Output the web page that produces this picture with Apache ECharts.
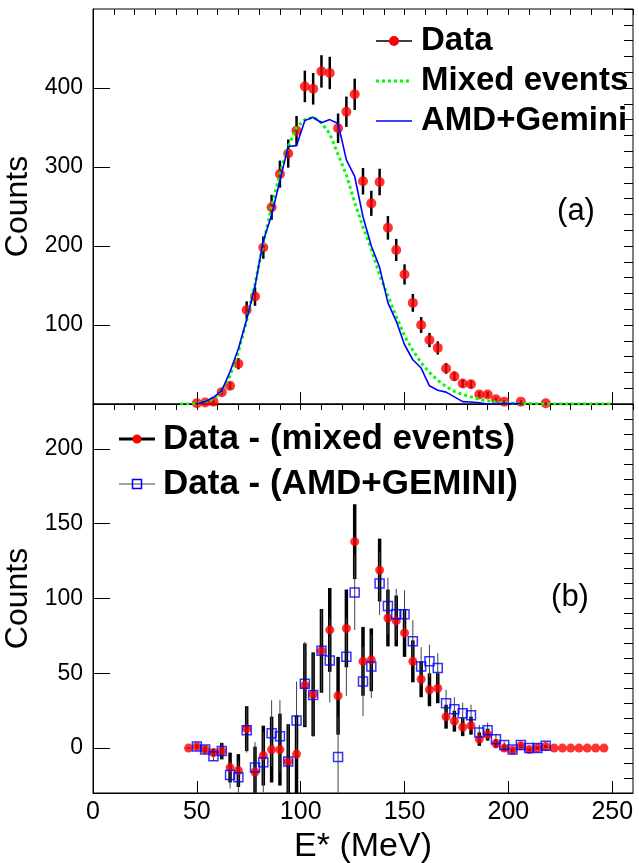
<!DOCTYPE html>
<html>
<head>
<meta charset="utf-8">
<script src="https://cdn.jsdelivr.net/npm/echarts@6/dist/echarts.min.js"></script>
<style>
  html, body { margin: 0; padding: 0; background: #fff; }
  #chart { width: 639px; height: 863px; }
</style>
</head>
<body>
<div id="chart"></div>
<script>
// bin centres in MeV (4 MeV bins)
const dataE = [50,54,58,62,66,70,74,78,82,86,90,94,98,102,106,110,114,118,122,126,130,134,138,142,146,150,154,158,162,166,170,174,178,182,186,190,194,198,202,206,210,214,218];
const dataCounts = [1,2,3,15,23,51,119,136,198,249,291,317,346,402,399,421,419,349,370,392,282,254,281,223,195,164,128,100,81,71,45,35,26,25,12,12,6,3,null,3,null,null,1];
const dataErr = [1,1.4,1.7,3.9,4.8,7.1,10.9,11.7,14.1,15.8,17.1,17.8,18.6,20,20,20.5,20.5,18.7,19.2,19.8,16.8,15.9,16.8,14.9,14,12.8,11.3,10,9,8.4,6.7,5.9,5.1,5,3.5,3.5,2.4,1.7,0,1.7,0,0,1];

const mixedE = [42,46,50,54,58,62,66,70,74,78,82,86,90,94,98,102,106,110,114,118,122,126,130,134,138,142,146,150,154,158,162,166,170,174,178,182,186,190,194,198,202,206,210,214,218,222,226,230,234,238,242,246,250];
const mixedCounts = [0,0,0.5,3,6,17,36,66,106,152,203,250,292,326,350,360,363,356,342,316,290,255,224,196,163,137,111,86,68,52,40,30,22,16,12,9,6,4,2.5,2,1,1,0.5,0.3,0,0,0,0,0,0,0,0,0];

const amdE = [50,54,58,62,66,70,74,78,82,86,90,94,98,102,106,110,114,118,122,126,130,134,138,142,146,150,154,158,162,166,170,174,178,182,186,190,194,198,202,206];
const amdCounts = [0,3,8.5,17,41,70,107,149,207,239,283,326,327,359,363,356,360,355,309,288,237,200,173,128,105,75,56,45.5,23,17.5,15,9,3,2.6,1.5,0,0,0.5,0.5,0.5];

// lower panel: Data - (mixed events)
const diffMixedE = [46,50,54,58,62,66,70,74,78,82,86,90,94,98,102,106,110,114,118,122,126,130,134,138,142,146,150,154,158,162,166,170,174,178,182,186,190,194,198,202,206,210,214,218,222,226,230,234,238,242,246];
const diffMixed = [0,1,-1,-3,-2,-13,-15,13,-16,-5,-1,-1,-9,-4,42,36,65,79,35,80,138,58,59,119,87,85,77,58,46,39,40,21,18,14,15,6,9,3,0,-1.5,1.5,-1,0,1,0,0,0,0,0,0,0];
const diffMixedErr = [0.5,1.5,2,2.5,5.5,10,11,15,17,20,22,24,25,26,28,28,28,28,26,26,25,23,21,21,19,17,16,14,12,11,10,8,7,6,6,4.5,4,3,2,1.5,1.5,1,1,1,0,0,0,0,0,0,0];

// lower panel: Data - (AMD+GEMINI)
const diffAmdE = [50,54,58,62,66,70,74,78,82,86,90,94,98,102,106,110,114,118,122,126,130,134,138,142,146,150,154,158,162,166,170,174,178,182,186,190,194,198,202,206,210,214,218];
const diffAmd = [1,-1,-5.5,-2,-18,-19.5,12,-13,-9.5,10,8,-9,18.5,43,35.5,65,58.5,-6,61,104,44.5,54.5,110,95,89.5,89.5,71.5,54.5,58,53.5,30,26,23.3,22,10.5,12,6,2,-1,2,0,0,1.5];
const diffAmdErr = [1.5,2,3,5.5,9,11,15,17,20,22,24,25,26,28,28,28,28,27,26,25,23,21,21,19,17,16,14,13,11,10,9,8,7,7,5,5,3.5,2.5,1.5,2,1,1,1.5];

const xTicks = [0, 50, 100, 150, 200, 250];
const yTicksTop = [100, 200, 300, 400];
const yTicksBottom = [0, 50, 100, 150, 200];

const FONT = 'Liberation Sans, Arial, Helvetica, sans-serif';

const pairs = (xs, ys) => xs.map((x, i) => [x, ys[i]]);

function errorBars(xs, ys, es, axis, width, color) {
  return {
    type: 'custom',
    xAxisIndex: axis.x,
    yAxisIndex: axis.y,
    silent: true,
    clip: true,
    data: xs.map((x, i) => ys[i] == null ? [x, null, null] : [x, ys[i] - es[i], ys[i] + es[i]]),
    encode: { x: 0, y: [1, 2] },
    renderItem: function (params, api) {
      if (isNaN(api.value(1))) return null;
      const lo = api.coord([api.value(0), api.value(1)]);
      const hi = api.coord([api.value(0), api.value(2)]);
      return {
        type: 'line',
        shape: { x1: lo[0], y1: lo[1], x2: hi[0], y2: hi[1] },
        style: { stroke: color, lineWidth: width }
      };
    }
  };
}

function majorX(grid, labels) {
  return {
    type: 'value', gridIndex: grid, min: 0, max: 260,
    axisLine: { show: true, onZero: false, lineStyle: { color: '#000', width: 1 } },
    axisTick: { show: true, inside: true, length: 12, customValues: xTicks, lineStyle: { color: '#000' } },
    axisLabel: { show: labels, customValues: xTicks, fontSize: 25, color: '#000', fontFamily: FONT, margin: 7 },
    splitLine: { show: false }
  };
}
function minorX(grid) {
  return {
    type: 'value', gridIndex: grid, min: 0, max: 260, interval: 10,
    axisLine: { show: false, onZero: false },
    axisTick: { show: true, inside: true, length: 6, lineStyle: { color: '#000' } },
    axisLabel: { show: false },
    splitLine: { show: false }
  };
}
function majorY(grid, min, max, ticks) {
  return {
    type: 'value', gridIndex: grid, min: min, max: max,
    name: 'Counts', nameLocation: 'middle', nameGap: 51,
    nameTextStyle: { fontSize: 32, color: '#000', fontFamily: FONT },
    axisLine: { show: true, onZero: false, lineStyle: { color: '#000', width: 1 } },
    axisTick: { show: true, inside: true, length: 17, customValues: ticks, lineStyle: { color: '#000' } },
    axisLabel: { customValues: ticks, fontSize: 23, color: '#000', fontFamily: FONT, margin: 10 },
    splitLine: { show: false }
  };
}
function minorY(grid, min, max, step) {
  return {
    type: 'value', gridIndex: grid, min: min, max: max, interval: step,
    axisLine: { show: false, onZero: false },
    axisTick: { show: true, inside: true, length: 9, lineStyle: { color: '#000' } },
    axisLabel: { show: false },
    splitLine: { show: false }
  };
}

const chart = echarts.init(document.getElementById('chart'), null, { renderer: 'canvas' });

const legendTop = { fontSize: 33, fontWeight: 'bold', fontFamily: FONT, fill: '#000', verticalAlign: 'middle' };
const legendBottom = { fontSize: 35, fontWeight: 'bold', fontFamily: FONT, fill: '#000', verticalAlign: 'middle' };

chart.setOption({
  animation: false,
  backgroundColor: '#fff',
  grid: [
    { left: 93, right: 6, top: 9, height: 395, show: true, borderColor: '#000', borderWidth: 1, outerBoundsMode: 'none' },
    { left: 93, right: 6, top: 404, height: 389, show: true, borderColor: '#000', borderWidth: 1, outerBoundsMode: 'none' }
  ],
  xAxis: [majorX(0, false), minorX(0), Object.assign(majorX(1, true), {
    name: 'E* (MeV)', nameLocation: 'middle', nameGap: 37,
    nameTextStyle: { fontSize: 34, color: '#000', fontFamily: FONT }
  }), minorX(1)],
  yAxis: [majorY(0, 0, 500, yTicksTop), minorY(0, 0, 500, 20),
          majorY(1, -30, 230, yTicksBottom), minorY(1, -30, 230, 10)],
  series: [
    errorBars(dataE, dataCounts, dataErr, { x: 0, y: 0 }, 2.5, '#000'),
    {
      name: 'Data', type: 'scatter', xAxisIndex: 0, yAxisIndex: 0,
      symbol: 'circle', symbolSize: 10, itemStyle: { color: '#ff0000' },
      data: pairs(dataE, dataCounts), silent: true
    },
    {
      name: 'Mixed events', type: 'line', xAxisIndex: 0, yAxisIndex: 0,
      showSymbol: false, symbol: 'none', data: pairs(mixedE, mixedCounts),
      lineStyle: { color: '#00ff00', width: 3, type: [3, 3] }, z: 3
    },
    {
      name: 'AMD+Gemini', type: 'line', xAxisIndex: 0, yAxisIndex: 0,
      showSymbol: false, symbol: 'none', data: pairs(amdE, amdCounts),
      lineStyle: { color: '#0000ff', width: 1.6 }, z: 4
    },
    errorBars(diffMixedE, diffMixed, diffMixedErr, { x: 2, y: 2 }, 3.5, '#000'),
    {
      name: 'Data - (mixed events)', type: 'scatter', xAxisIndex: 2, yAxisIndex: 2,
      symbol: 'circle', symbolSize: 9, itemStyle: { color: '#ff0000' },
      data: pairs(diffMixedE, diffMixed), silent: true
    },
    errorBars(diffAmdE, diffAmd, diffAmdErr, { x: 2, y: 2 }, 1, '#444'),
    {
      name: 'Data - (AMD+GEMINI)', type: 'scatter', xAxisIndex: 2, yAxisIndex: 2,
      symbol: 'rect', symbolSize: 9,
      itemStyle: { color: 'rgba(0,0,0,0)', borderColor: '#0000ff', borderWidth: 1.5 },
      data: pairs(diffAmdE, diffAmd), silent: true, z: 5
    }
  ],
  graphic: [
    // upper legend
    { type: 'line', shape: { x1: 376, y1: 41, x2: 412, y2: 41 }, style: { stroke: '#000', lineWidth: 1.5 } },
    { type: 'circle', shape: { cx: 394, cy: 41, r: 5 }, style: { fill: '#ff0000' } },
    { type: 'text', x: 421, y: 41, style: Object.assign({ text: 'Data' }, legendTop) },
    { type: 'line', shape: { x1: 376, y1: 81, x2: 412, y2: 81 }, style: { stroke: '#00ff00', lineWidth: 3, lineDash: [3, 3] } },
    { type: 'text', x: 421, y: 81, style: Object.assign({ text: 'Mixed events' }, legendTop) },
    { type: 'line', shape: { x1: 376, y1: 121, x2: 412, y2: 121 }, style: { stroke: '#0000ff', lineWidth: 1.6 } },
    { type: 'text', x: 421, y: 121, style: Object.assign({ text: 'AMD+Gemini' }, legendTop) },
    { type: 'text', x: 576, y: 211, style: { text: '(a)', fontSize: 31, fontFamily: FONT, fill: '#000', align: 'center', verticalAlign: 'middle' } },
    // lower legend
    { type: 'line', shape: { x1: 119, y1: 439, x2: 155, y2: 439 }, style: { stroke: '#000', lineWidth: 3 } },
    { type: 'circle', shape: { cx: 137, cy: 439, r: 4.5 }, style: { fill: '#ff0000' } },
    { type: 'text', x: 163, y: 439, style: Object.assign({ text: 'Data - (mixed events)' }, legendBottom) },
    { type: 'line', shape: { x1: 119, y1: 484, x2: 155, y2: 484 }, style: { stroke: '#444', lineWidth: 1 } },
    { type: 'rect', shape: { x: 132.5, y: 479.5, width: 9, height: 9 }, style: { fill: 'rgba(0,0,0,0)', stroke: '#0000ff', lineWidth: 1.5 } },
    { type: 'text', x: 163, y: 484, style: Object.assign({ text: 'Data - (AMD+GEMINI)' }, legendBottom) },
    { type: 'text', x: 570, y: 597, style: { text: '(b)', fontSize: 31, fontFamily: FONT, fill: '#000', align: 'center', verticalAlign: 'middle' } }
  ]
});

window.addEventListener('resize', function () { chart.resize(); });
</script>
</body>
</html>
